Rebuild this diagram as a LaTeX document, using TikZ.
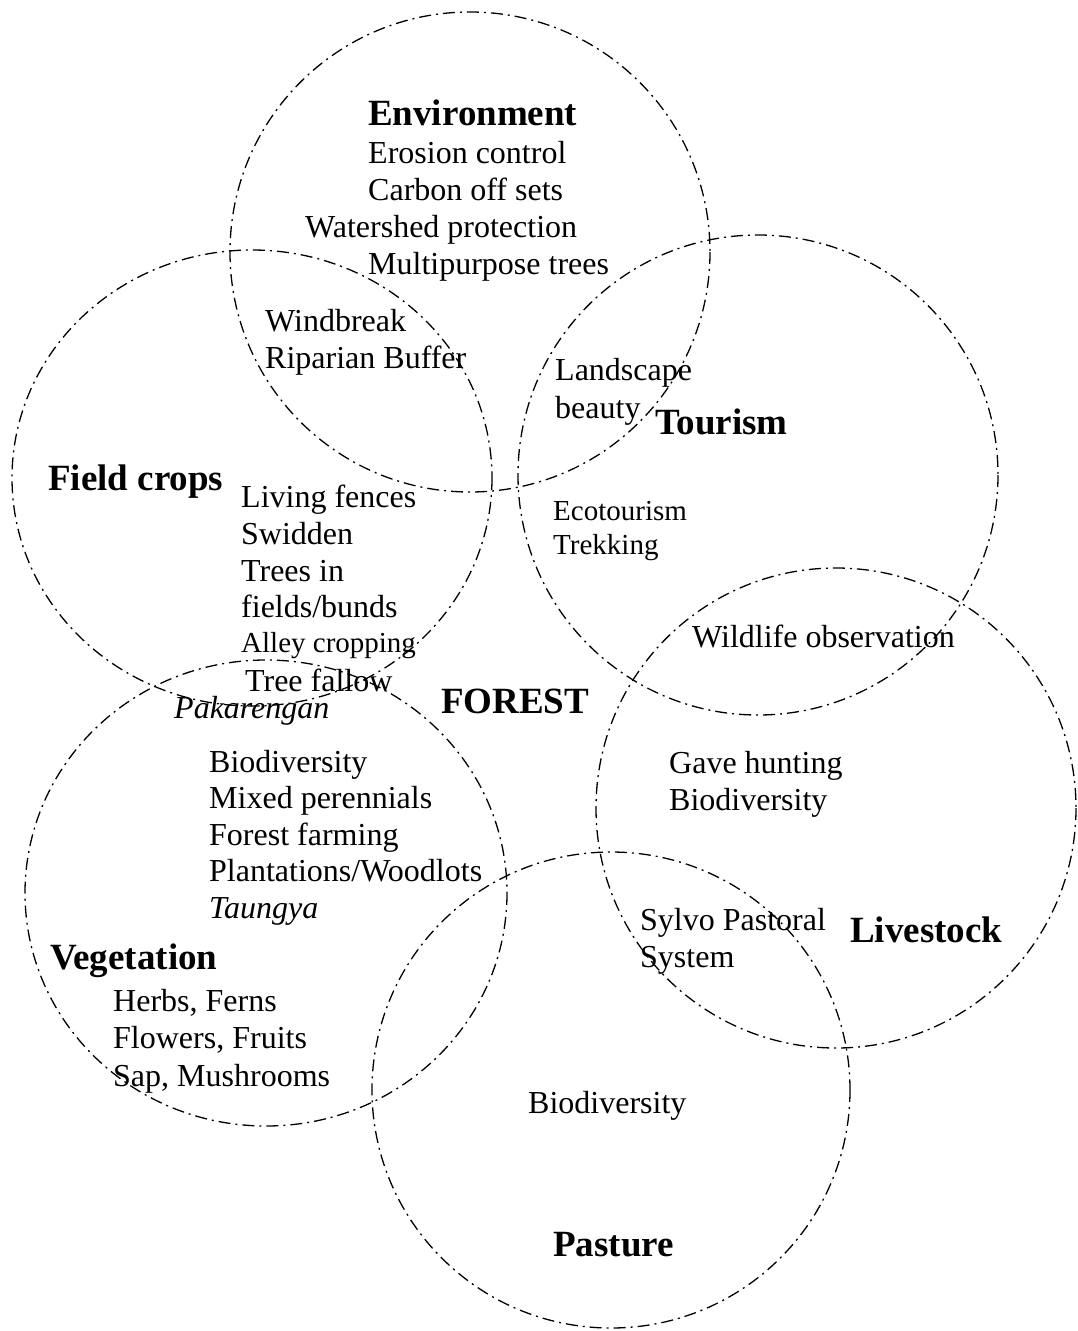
\documentclass[tikz,border=0pt]{standalone}
\usepackage{fontspec}
\setmainfont{Liberation Serif}
\begin{document}
\begin{tikzpicture}[x=1pt,y=-1pt,
  ring/.style={draw=black, line width=1.3pt, dash pattern=on 12pt off 5pt on 2pt off 5pt},
  txt/.style={anchor=base west, inner sep=0pt, font=\fontsize{32}{36}\selectfont},
  sml/.style={anchor=base west, inner sep=0pt, font=\fontsize{29}{34}\selectfont},
  ttl/.style={anchor=base west, inner sep=0pt, font=\fontsize{37}{42}\selectfont\bfseries},
  itx/.style={anchor=base west, inner sep=0pt, font=\fontsize{32}{36}\selectfont\itshape}]
\useasboundingbox (0,0) rectangle (1077,1331);
% circles
\draw[ring] (470,252) ellipse [x radius=240, y radius=240];
\draw[ring] (252,478) ellipse [x radius=240, y radius=228];
\draw[ring] (758,475) ellipse [x radius=240, y radius=240];
\draw[ring] (266,893) ellipse [x radius=241, y radius=233];
\draw[ring] (836,808) ellipse [x radius=240, y radius=240];
\draw[ring] (611,1090) ellipse [x radius=239, y radius=238];
% Environment
\node[ttl] (env) at (368,125) {Environment};
\node[txt] (e1) at (368,163) {Erosion control};
\node[txt] (e2) at (368,200) {Carbon off sets};
\node[txt] (e3) at (305,237) {Watershed protection};
\node[txt] (e4) at (368,274) {Multipurpose trees};
% Env/Field
\node[txt] (w1) at (265,331) {Windbreak};
\node[txt] (w2) at (265,368) {Riparian Buffer};
% Env/Tourism
\node[txt] (l1) at (555,380) {Landscape};
\node[txt] (l2) at (555,418) {beauty};
\node[ttl] (tour) at (655,434) {Tourism};
% Field crops
\node[ttl] (field) at (48,490) {Field crops};
\node[txt] (f1) at (241,507) {Living fences};
\node[txt] (f2) at (241,544) {Swidden};
\node[txt] (f3) at (241,581) {Trees in};
\node[txt] (f4) at (241,617) {fields/bunds};
\node[sml] (f5) at (241,652) {Alley cropping};
\node[txt] (f6) at (245,691) {Tree fallow};
% Tourism
\node[sml] (t1) at (553,520) {Ecotourism};
\node[sml] (t2) at (553,554) {Trekking};
\node[txt] (t3) at (692,647) {Wildlife observation};
% centre
\node[ttl] (forest) at (441,713) {FOREST};
\node[itx] (pak) at (174,718) {Pakarengan};
% Vegetation overlap
\node[txt] (v1) at (209,772) {Biodiversity};
\node[txt] (v2) at (209,808) {Mixed perennials};
\node[txt] (v3) at (209,845) {Forest farming};
\node[txt] (v4) at (209,881) {Plantations/Woodlots};
\node[itx] (v5) at (209,918) {Taungya};
\node[ttl] (veg) at (50,969) {Vegetation};
\node[txt] (h1) at (113,1011) {Herbs, Ferns};
\node[txt] (h2) at (113,1048) {Flowers, Fruits};
\node[txt] (h3) at (113,1086) {Sap, Mushrooms};
% Livestock
\node[txt] (g1) at (669,773) {Gave hunting};
\node[txt] (g2) at (669,810) {Biodiversity};
\node[txt] (s1) at (640,930) {Sylvo Pastoral};
\node[txt] (s2) at (640,967) {System};
\node[ttl] (live) at (850,942) {Livestock};
% Pasture
\node[txt] (p1) at (528,1113) {Biodiversity};
\node[ttl] (past) at (553,1256) {Pasture};
\end{tikzpicture}
\end{document}
